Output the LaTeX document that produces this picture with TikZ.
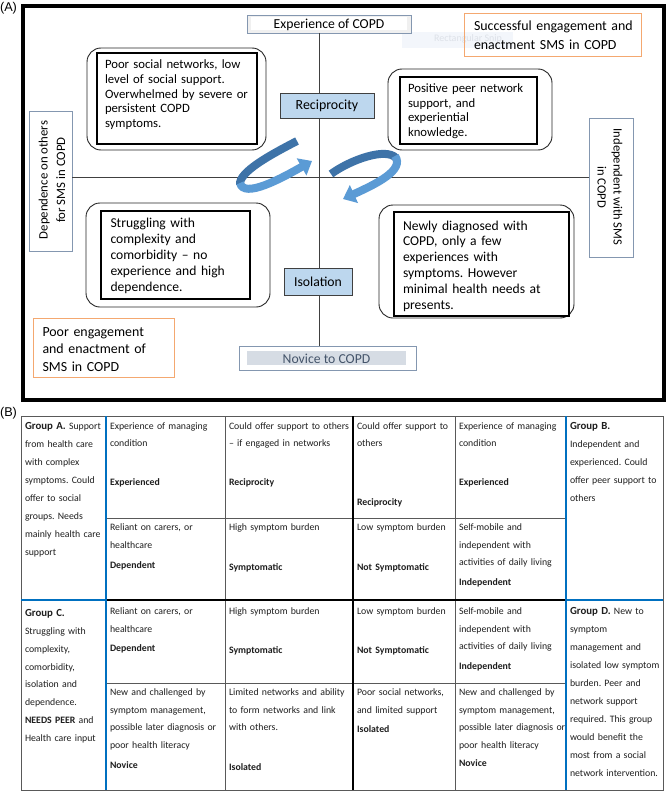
\documentclass[tikz,border=0pt]{standalone}
\usepackage{fontspec}
\setmainfont{Carlito}
\newfontfamily\labfont{Liberation Sans}
\usetikzlibrary{arrows.meta}
\frenchspacing
\definecolor{lblue}{HTML}{8497B0}
\definecolor{boxblue}{HTML}{BDD7EE}
\definecolor{orng}{HTML}{F4A870}
\definecolor{tblue}{HTML}{0070C0}
\definecolor{tgray}{HTML}{595959}
\definecolor{darkarrow}{HTML}{3E73A8}
\definecolor{lightarrow}{HTML}{5B9BD5}
\definecolor{novfill}{HTML}{D6DCE4}
\definecolor{novtext}{HTML}{44546A}
\definecolor{ghostfill}{HTML}{F3F6FB}
\definecolor{ghosttext}{HTML}{DDE1E8}
\newcommand\fz[2]{\fontsize{#1}{#2}\selectfont}
\begin{document}
\begin{tikzpicture}[x=1pt,y=-1pt,
  txt/.style={anchor=base west, inner sep=0pt, outer sep=0pt, text width=170pt, align=left},
  tcell/.style={txt, font=\fz{9.8}{17.6}, text=black!88},
  tbold/.style={txt, font=\fz{9.8}{17.6}\bfseries, text=black!88},
  gcell/.style={txt, font=\fz{9.8}{18}, text=black!88},
  boxnode/.style={inner sep=0pt, outer sep=0pt, anchor=north west},
  roundbox/.style={boxnode, draw=black!85, line width=0.9pt, rounded corners=14pt},
  innerbox/.style={boxnode, draw=black, line width=1.1pt, fill=white},
  axisbox/.style={boxnode, draw=lblue, line width=0.9pt, fill=white},
  orangebox/.style={boxnode, draw=orng, line width=1pt},
  keybox/.style={boxnode, draw=black!75, line width=1pt, fill=boxblue},
  thin/.style={draw=tgray, line width=0.8pt},
  thickblack/.style={draw=black, line width=2.2pt},
  thickblue/.style={draw=tblue, line width=2pt},
  ribbon/.style={line width=8pt}
]
\useasboundingbox (0,0) rectangle (667,792);
\fill[white] (0,0) rectangle (667,792);

% ---------------- Panel A ----------------
\node[font=\labfont\fz{12.7}{14}, inner sep=0pt] (labA) at (8.5,8.5) {(A)};
\node[boxnode, draw=black, line width=3.5pt, minimum width=641, minimum height=394] (frame) at (23,6) {};

% ghost snip
\node[boxnode, fill=ghostfill, minimum width=111, minimum height=16] (ghost) at (402,32) {};
\node[font=\fz{10}{12}, text=ghosttext, inner sep=0pt] (ghosttxt) at (468,38.5) {Rectangular Snip};

% axis end boxes
\node[axisbox, fill=black!6, minimum width=164, minimum height=18] (exp) at (247,15) {};
\node[boxnode, fill=white, minimum width=156, minimum height=13] (expin) at (251,17.5) {};
\node[font=\fz{13.7}{15}, inner sep=0pt] (exptxt) at (329,24.5) {Experience of COPD};

\node[axisbox, minimum width=177, minimum height=24] (nov) at (239,346) {};
\node[boxnode, fill=novfill, minimum width=159, minimum height=14] (novin) at (247,351) {};
\node[font=\fz{13.7}{15}, text=novtext, inner sep=0pt] (novtxt) at (326.5,358.5) {Novice to COPD};

\node[axisbox, minimum width=43, minimum height=140] (lbox) at (29,111) {};
\node[font=\fz{12.8}{17.4}, align=center, rotate=90, inner sep=0pt] (ltxt) at (52,180) {Dependence on others\\for SMS in COPD};

\node[axisbox, minimum width=44, minimum height=139] (rbox) at (589,118) {};
\node[font=\fz{12.6}{16}, align=center, rotate=-90, inner sep=0pt] (rtxt) at (610,187) {Independent with SMS\\in COPD};

% axes
\coordinate (vx) at (319,0);
\coordinate (hy) at (0,177);
\draw[draw=black!75, line width=0.9pt] (exp.south -| vx) -- (nov.north -| vx);
\draw[draw=black!75, line width=0.9pt] (lbox.east |- hy) -- (rbox.west |- hy);

% orange boxes
\node[orangebox, minimum width=177, minimum height=43] (succ) at (464,14) {};
\node[txt, font=\fz{13.9}{19}] (succtxt) at (474,31) {Successful engagement and\\enactment SMS in COPD};
\node[orangebox, fill=white, minimum width=141, minimum height=59] (poor) at (33,318) {};
\node[txt, font=\fz{13.9}{17.5}] (poortxt) at (42.5,336) {Poor engagement\\and enactment of\\SMS in COPD};

% quadrant boxes
\node[roundbox, fill=white, minimum width=179, minimum height=102] (tlout) at (87,48) {};
\node[innerbox, minimum width=160, minimum height=91] (tlin) at (97,53) {};
\node[txt, font=\fz{12.7}{14.7}] (tltxt) at (105,68.6) {Poor social networks, low\\level of social support.\\Overwhelmed by severe or\\persistent COPD\\symptoms.};

\node[roundbox, fill=white, minimum width=164, minimum height=81] (trout) at (388,69) {};
\node[innerbox, minimum width=137, minimum height=67] (trin) at (400,77) {};
\node[txt, font=\fz{12.7}{14.7}] (trtxt) at (408,92.6) {Positive peer network\\support, and\\experiential\\knowledge.};

\node[roundbox, fill=white, minimum width=184, minimum height=104] (blout) at (86,203) {};
\node[innerbox, minimum width=149, minimum height=88] (blin) at (101,211) {};
\node[txt, font=\fz{13.6}{16.2}] (bltxt) at (110.5,227) {Struggling with\\complexity and\\comorbidity -- no\\experience and high\\dependence.};

\node[roundbox, fill=white, minimum width=195, minimum height=113] (brout) at (379,205) {};
\node[innerbox, minimum width=175, minimum height=104] (brin) at (394,212) {};
\node[txt, font=\fz{13.6}{15.8}] (brtxt) at (403,230) {Newly diagnosed with\\COPD, only a few\\experiences with\\symptoms. However\\minimal health needs at\\presents.};

% key boxes
\node[keybox, minimum width=94, minimum height=25] (reci) at (280,93) {};
\node[font=\fz{13.9}{15}, inner sep=0pt] (recitxt) at (reci.center) {Reciprocity};
\node[keybox, minimum width=68, minimum height=27] (iso) at (284,268) {};
\node[font=\fz{13.7}{15}, inner sep=0pt] (isotxt) at (iso.center) {Isolation};

% circular ribbon arrows
\draw[ribbon, darkarrow] (297,141) .. controls (272,154) and (238,172) .. (240,185);
\draw[ribbon, lightarrow, -{Triangle[width=19pt,length=12pt]}] (240,183) .. controls (244,199) and (282,178) .. (312,161);
\draw[ribbon, darkarrow] (331,174) .. controls (350,160) and (386,147) .. (396,158);
\draw[ribbon, lightarrow, -{Triangle[width=19pt,length=12pt]}] (395,156) .. controls (405,170) and (376,184) .. (343,199);

% ---------------- Panel B ----------------
\node[font=\labfont\fz{12.7}{14}, inner sep=0pt] (labB) at (8.5,413.5) {(B)};

% thin grid
\draw[thin] (21,416) rectangle (663,790);
\draw[thin] (225,416) -- (225,790);
\draw[thin] (455,416) -- (455,790);
\draw[thin] (106,518) -- (566,518);
\draw[thin] (106,683) -- (566,683);
% thick lines
\draw[thickblack] (106,600) -- (566,600);
\draw[thickblack] (353,416) -- (353,790);
\draw[thickblue] (21,600) -- (106,600);
\draw[thickblue] (566,600) -- (663,600);
\draw[thickblue] (106,416) -- (106,790);
\draw[thickblue] (566,416) -- (566,790);

% Group cells
\node[gcell] (ga) at (25,429) {{\bfseries\fz{10.8}{18}Group A.} Support\\from health care\\with complex\\symptoms. Could\\offer to social\\groups. Needs\\mainly health care\\support};
\node[gcell] (gb) at (570,429) {{\bfseries\fz{10.8}{18}Group B.}\\Independent and\\experienced. Could\\offer peer support to\\others};
\node[txt, font=\fz{9.8}{17.8}, text=black!88] (gc) at (25,616.7) {{\bfseries\fz{10.8}{17.8}Group C.}\\Struggling with\\complexity,\\comorbidity,\\isolation and\\dependence.\\\textbf{NEEDS PEER} and\\Health care input};
\node[gcell] (gd) at (570,614.7) {{\bfseries\fz{10.8}{18}Group D.} New to\\symptom\\management and\\isolated low symptom\\burden. Peer and\\network support\\required. This group\\would benefit the\\most from a social\\network intervention.};

% Row 1
\node[tcell] (r1c2) at (110,429) {Experience of managing\\condition};
\node[tbold] (r1c2b) at (110,485.7) {Experienced};
\node[tcell] (r1c3) at (229,429) {Could offer support to others\\-- if engaged in networks};
\node[tbold] (r1c3b) at (229,485.7) {Reciprocity};
\node[tcell] (r1c4) at (357,429) {Could offer support to\\others};
\node[tbold] (r1c4b) at (357,505.7) {Reciprocity};
\node[tcell] (r1c5) at (459,429) {Experience of managing\\condition};
\node[tbold] (r1c5b) at (459,485.7) {Experienced};

% Row 2
\node[tcell] (r2c2) at (110,530.7) {Reliant on carers, or\\healthcare};
\node[tbold] (r2c2b) at (110,568.7) {Dependent};
\node[tcell] (r2c3) at (229,530.7) {High symptom burden};
\node[tbold] (r2c3b) at (229,570.7) {Symptomatic};
\node[tcell] (r2c4) at (357,530.7) {Low symptom burden};
\node[tbold] (r2c4b) at (357,570.7) {Not Symptomatic};
\node[tcell] (r2c5) at (459,530.7) {Self-mobile and\\independent with\\activities of daily living};
\node[tbold] (r2c5b) at (459,585.7) {Independent};

% Row 3
\node[tcell] (r3c2) at (110,614.7) {Reliant on carers, or\\healthcare};
\node[tbold] (r3c2b) at (110,651.7) {Dependent};
\node[tcell] (r3c3) at (229,614.7) {High symptom burden};
\node[tbold] (r3c3b) at (229,653.7) {Symptomatic};
\node[tcell] (r3c4) at (357,614.7) {Low symptom burden};
\node[tbold] (r3c4b) at (357,653.7) {Not Symptomatic};
\node[tcell] (r3c5) at (459,614.7) {Self-mobile and\\independent with\\activities of daily living};
\node[tbold] (r3c5b) at (459,669.7) {Independent};

% Row 4
\node[tcell] (r4c2) at (110,695.7) {New and challenged by\\symptom management,\\possible later diagnosis or\\poor health literacy};
\node[tbold] (r4c2b) at (110,768.7) {Novice};
\node[tcell] (r4c3) at (229,695.7) {Limited networks and ability\\to form networks and link\\with others.};
\node[tbold] (r4c3b) at (229,770.7) {Isolated};
\node[tcell] (r4c4) at (357,695.7) {Poor social networks,\\and limited support};
\node[tbold] (r4c4b) at (357,732.7) {Isolated};
\node[tcell] (r4c5) at (459,695.7) {New and challenged by\\symptom management,\\possible later diagnosis or\\poor health literacy};
\node[tbold] (r4c5b) at (459,766.7) {Novice};
\end{tikzpicture}
\end{document}
